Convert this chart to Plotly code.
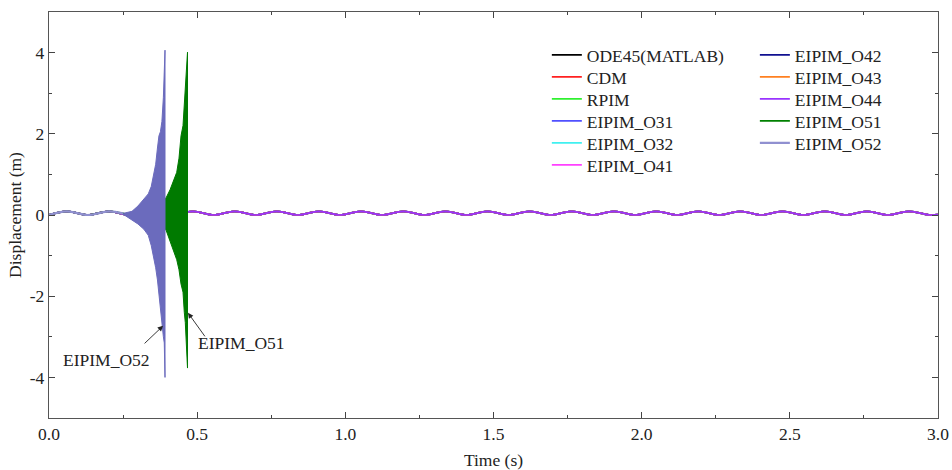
import plotly.graph_objects as go

# Turning points (time, displacement) of the converged steady response
wave_t = [0.000, 0.060, 0.131, 0.202, 0.271, 0.342, 0.413, 0.485, 0.556, 0.627,
          0.698, 0.769, 0.840, 0.911, 0.982, 1.053, 1.124, 1.196, 1.267, 1.338,
          1.409, 1.480, 1.551, 1.622, 1.693, 1.764, 1.835, 1.907, 1.978, 2.049,
          2.120, 2.191, 2.262, 2.333, 2.404, 2.475, 2.546, 2.618, 2.689, 2.760,
          2.831, 2.902, 2.973, 3.000]
wave_d = [0.00, 0.09, 0.00, 0.09, 0.00, 0.09, 0.00, 0.09, 0.00, 0.09,
          0.00, 0.09, 0.00, 0.09, 0.00, 0.09, 0.00, 0.09, 0.00, 0.09,
          0.00, 0.09, 0.00, 0.09, 0.00, 0.09, 0.00, 0.09, 0.00, 0.09,
          0.00, 0.09, 0.00, 0.09, 0.00, 0.09, 0.00, 0.09, 0.00, 0.09,
          0.00, 0.09, 0.00, 0.01]

# Divergence envelopes of the unstable schemes
o52_env_t = [0.250, 0.265, 0.280, 0.300, 0.320, 0.335, 0.345, 0.352, 0.360,
             0.366, 0.371, 0.376, 0.381, 0.386, 0.389, 0.3915]
o52_upper = [0.04, 0.06, 0.09, 0.22, 0.38, 0.52, 0.70, 0.95, 1.25,
             1.65, 1.95, 2.05, 2.30, 2.90, 3.60, 4.06]
o52_lower = [0.02, -0.05, -0.12, -0.22, -0.35, -0.50, -0.75, -0.95, -1.30,
             -1.60, -1.95, -2.30, -2.60, -3.00, -3.15, -4.00]

o51_env_t = [0.300, 0.340, 0.370, 0.3949, 0.4084, 0.4195, 0.431, 0.4387,
             0.4455, 0.4522, 0.4566, 0.460, 0.4640, 0.4674]
o51_upper = [0.06, 0.15, 0.30, 0.42, 0.62, 0.82, 1.05, 1.40,
             1.95, 2.20, 2.70, 3.10, 3.50, 4.01]
o51_lower = [-0.02, -0.10, -0.25, -0.37, -0.62, -0.86, -1.10, -1.35,
             -1.70, -1.90, -2.40, -2.65, -3.10, -3.77]

stable_names = ["ODE45(MATLAB)", "CDM", "RPIM", "EIPIM_O31", "EIPIM_O32", "EIPIM_O41",
                "EIPIM_O42", "EIPIM_O43", "EIPIM_O44"]
stable_colors = ["#000000", "#FF2020", "#30F030", "#5050FF", "#40F0F0", "#FF40FF",
                 "#101090", "#FF8020", "#9933FF"]

x_ticks = [0.0, 0.5, 1.0, 1.5, 2.0, 2.5, 3.0]
x_ticktext = ["0.0", "0.5", "1.0", "1.5", "2.0", "2.5", "3.0"]
y_ticks = [-4, -2, 0, 2, 4]
y_ticktext = ["-4", "-2", "0", "2", "4"]

FONT = "Liberation Serif"
TXT = "#222222"
FS = 17.5
fig = go.Figure()

# one legend box per entry so the two columns keep a tight row pitch
def legend_ref(i):
    return "legend" if i == 0 else f"legend{i + 1}"

for i, (name, c) in enumerate(zip(stable_names, stable_colors)):
    fig.add_trace(go.Scatter(x=wave_t, y=wave_d, mode="lines", name=name,
                             line=dict(color=c, width=1.7, shape="spline"),
                             legend=legend_ref(i)))

# EIPIM_O51: stable start, then blows up
fig.add_trace(go.Scatter(x=wave_t[:5], y=wave_d[:5], mode="lines", name="EIPIM_O51",
                         line=dict(color="#008000", width=1.7, shape="spline"),
                         legend=legend_ref(9)))
fig.add_trace(go.Scatter(x=o51_env_t + o51_env_t[::-1], y=o51_upper + o51_lower[::-1],
                         mode="lines", fill="toself", fillcolor="#007A00",
                         line=dict(color="#007A00", width=1), showlegend=False,
                         hoverinfo="skip"))

# EIPIM_O52
o52_line_t = wave_t[:4] + [o52_env_t[0]]
o52_line_d = wave_d[:4] + [o52_upper[0]]
fig.add_trace(go.Scatter(x=o52_line_t, y=o52_line_d, mode="lines", name="EIPIM_O52",
                         line=dict(color="#9090D0", width=2.2, shape="spline"),
                         legend=legend_ref(10)))
fig.add_trace(go.Scatter(x=o52_env_t + o52_env_t[::-1], y=o52_upper + o52_lower[::-1],
                         mode="lines", fill="toself", fillcolor="#6B6BBD",
                         line=dict(color="#6B6BBD", width=1), showlegend=False,
                         hoverinfo="skip"))

axis_common = dict(
    showgrid=False, zeroline=False, showline=True, linecolor="#555555", linewidth=1.3,
    mirror="ticks", ticks="inside", ticklen=6, tickwidth=1, tickcolor="#444444",
    tickfont=dict(family=FONT, size=FS, color=TXT), automargin=False,
)
fig.update_xaxes(range=[0, 3.0], tickvals=x_ticks, ticktext=x_ticktext,
                 minor=dict(dtick=0.25, tick0=0, ticks="inside", ticklen=3, tickcolor="#444444"),
                 title=dict(text="Time (s)", font=dict(family=FONT, size=FS, color=TXT),
                            standoff=12),
                 **axis_common)
fig.update_yaxes(range=[-5, 5], tickvals=y_ticks, ticktext=y_ticktext,
                 minor=dict(dtick=1, tick0=0, ticks="inside", ticklen=3, tickcolor="#444444"),
                 title=dict(text="Displacement (m)", font=dict(family=FONT, size=FS, color=TXT),
                            standoff=3),
                 **axis_common)

# legend placement: six rows in the left column, five in the right
plot_top, plot_h = 12, 406
row_px = [55, 77, 99, 121, 143, 165]
legends = {}
for i in range(11):
    col, row = (0, i) if i < 6 else (1, i - 6)
    legends[legend_ref(i)] = dict(
        x=0.560 if col == 0 else 0.794,
        y=1 - (row_px[row] - plot_top) / plot_h,
        xanchor="left", yanchor="middle",
        font=dict(family=FONT, size=FS, color=TXT), bgcolor="rgba(0,0,0,0)",
        borderwidth=0, itemwidth=30, tracegroupgap=0,
    )
fig.update_layout(**legends)

fig.add_annotation(x=0.385, y=-2.73, ax=-20, ay=19, text="", showarrow=True,
                   arrowhead=2, arrowsize=1.2, arrowwidth=0.9, arrowcolor=TXT)
fig.add_annotation(x=0.469, y=-2.41, ax=18, ay=25, text="", showarrow=True,
                   arrowhead=2, arrowsize=1.2, arrowwidth=0.9, arrowcolor=TXT)
fig.add_annotation(x=0.193, y=-3.57, text="EIPIM_O52", showarrow=False,
                   font=dict(family=FONT, size=FS, color=TXT))
fig.add_annotation(x=0.650, y=-3.15, text="EIPIM_O51", showarrow=False,
                   font=dict(family=FONT, size=FS, color=TXT))

fig.update_layout(
    width=952, height=470, margin=dict(l=49, r=14, t=12, b=52),
    plot_bgcolor="white", paper_bgcolor="white", showlegend=True,
    font=dict(family=FONT, color=TXT),
)

fig.write_html("out.html")
